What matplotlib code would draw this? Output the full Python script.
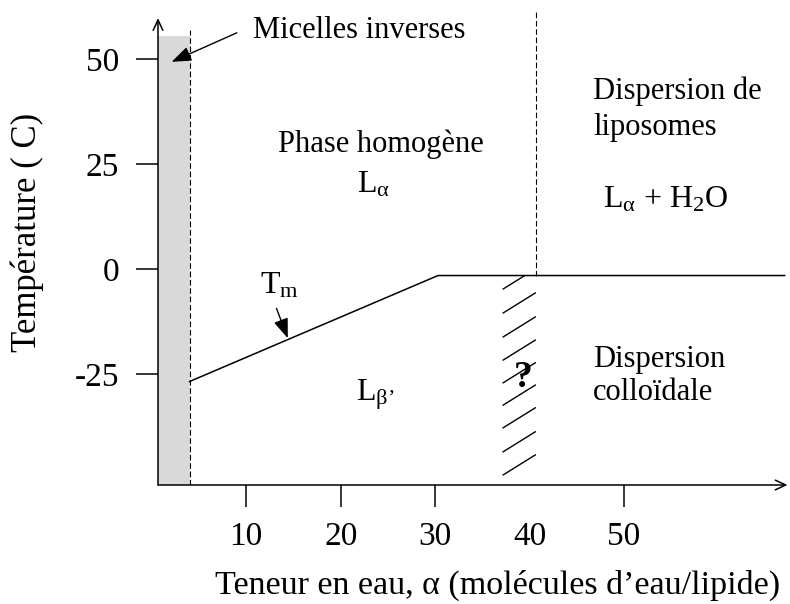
import matplotlib
matplotlib.use("Agg")
import matplotlib.pyplot as plt
from matplotlib.patches import Rectangle

plt.rcParams['font.family'] = ['Liberation Serif', 'DejaVu Serif']
plt.rcParams['mathtext.fontset'] = 'custom'
plt.rcParams['mathtext.rm'] = 'Liberation Serif'
plt.rcParams['mathtext.it'] = 'Liberation Serif:italic'
plt.rcParams['mathtext.bf'] = 'Liberation Serif:bold'

# axis ticks
x_ticks = [10, 20, 30, 40, 50]
x_tick_labels = ['10', '20', '30', '40', '50']
y_ticks = [50, 25, 0, -25]
y_tick_labels = ['50', '25', '0', '-25']

# phase boundaries (water content, temperature)
tm_x = [4.0, 30.3, 67.0]
tm_y = [-26.7, -1.5, -1.5]
micelle_limit = 4.0
micelle_top = 55.4
liposome_limit = 40.7
liposome_top = 61.2

# hatched zone of unknown behaviour
hatch_x0 = 37.2
hatch_x1 = 40.6
hatch_left_y = [-4.7, -10.4, -16.1, -21.6, -27.0, -32.3, -37.7, -43.4, -48.9]
hatch_rise = 4.75

x_min, x_max = 0.66, 67.5
y_min, y_max = -51.3, 62.1

fig = plt.figure(figsize=(7.9, 6.04), dpi=100)
ax = fig.add_axes([158 / 790, 119 / 604, (789.4 - 158) / 790, (604 - 119 - 8) / 604])
ax.set_xlim(x_min, x_max)
ax.set_ylim(y_min, y_max)
for s in ax.spines.values():
    s.set_visible(False)

# axes drawn as arrows
ax.annotate('', xy=(67.3, y_min), xytext=(x_min, y_min),
            arrowprops=dict(arrowstyle='->,head_length=0.75,head_width=0.35', lw=1.1, color='black',
                            shrinkA=0, shrinkB=0))
ax.annotate('', xy=(x_min, 59.7), xytext=(x_min, y_min),
            arrowprops=dict(arrowstyle='->,head_length=0.75,head_width=0.35', lw=1.1, color='black',
                            shrinkA=0, shrinkB=0))

ax.set_xticks(x_ticks)
ax.set_xticklabels(x_tick_labels)
ax.set_yticks(y_ticks)
ax.set_yticklabels(y_tick_labels)
ax.tick_params(axis='both', direction='out', length=16, width=1.1, labelsize=24, colors='black')
ax.tick_params(axis='x', pad=10)
ax.tick_params(axis='y', pad=12)
ax.xaxis.get_major_ticks()[3].tick1line.set_visible(False)

# inverse micelles band
ax.add_patch(Rectangle((x_min, y_min), micelle_limit - x_min, micelle_top - y_min,
                       facecolor='#d9d9d9', edgecolor='none', zorder=1))
ax.plot([micelle_limit, micelle_limit], [y_min, 56.9], color='black', lw=0.8,
        dashes=(5, 2.5), zorder=2)
ax.plot([liposome_limit, liposome_limit], [tm_y[-1], liposome_top], color='black', lw=0.8,
        dashes=(5, 2.5), zorder=2, clip_on=False)

# main transition line
ax.plot(tm_x, tm_y, color='black', lw=1.1, zorder=3)

# hatching below the plateau
clip = Rectangle((hatch_x0 - 1, y_min), hatch_x1 - hatch_x0 + 2, tm_y[-1] - y_min,
                 transform=ax.transData, facecolor='none', edgecolor='none')
ax.add_patch(clip)
for y0 in hatch_left_y:
    ln, = ax.plot([hatch_x0, hatch_x1], [y0, y0 + hatch_rise], color='black', lw=1.0)
    ln.set_clip_path(clip)

# annotation arrows
ax.annotate('', xy=(2.1, 49.3), xytext=(9.0, 56.2),
            arrowprops=dict(arrowstyle='-|>,head_length=1.2,head_width=0.45', lw=1.0,
                            color='black', shrinkA=0, shrinkB=0))
ax.annotate('', xy=(14.4, -16.4), xytext=(13.2, -9.3),
            arrowprops=dict(arrowstyle='-|>,head_length=1.2,head_width=0.45', lw=1.0,
                            color='black', shrinkA=0, shrinkB=0))

fs = 22
def px(x, y):
    return (x / 790, 1 - y / 604)

fig.text(*px(253, 31), 'Micelles inverses', fontsize=fs, ha='left', va='center')
fig.text(*px(381, 152), 'Phase homogène', fontsize=fs, ha='center', va='baseline')
fig.text(*px(357, 192), r'L$_{\mathrm{α}}$', fontsize=23, ha='left', va='baseline')
fig.text(*px(593, 99), 'Dispersion de', fontsize=fs, ha='left', va='baseline')
fig.text(*px(593, 135), 'liposomes', fontsize=fs, ha='left', va='baseline')
fig.text(*px(603, 208), r'L$_{\mathrm{α}}$ + H$_{\mathrm{2}}$O', fontsize=23, ha='left', va='baseline')
fig.text(*px(260, 293), r'T$_{\mathrm{m}}$', fontsize=23, ha='left', va='baseline')
fig.text(*px(356, 400), r'L$_{\mathrm{β’}}$', fontsize=23, ha='left', va='baseline')
fig.text(*px(523, 387), '?', fontsize=27, fontweight='bold', ha='center', va='baseline')
fig.text(*px(593, 367), 'Dispersion', fontsize=fs, ha='left', va='baseline')
fig.text(*px(593, 400), 'colloïdale', fontsize=fs, ha='left', va='baseline')

fig.text(*px(498, 594), 'Teneur en eau, α (molécules d’eau/lipide)', fontsize=24.5,
         ha='center', va='baseline')
fig.text(*px(27, 232), 'Température ( C)', fontsize=25, rotation=90, ha='center', va='center')

fig.savefig('out.png', dpi=100)
